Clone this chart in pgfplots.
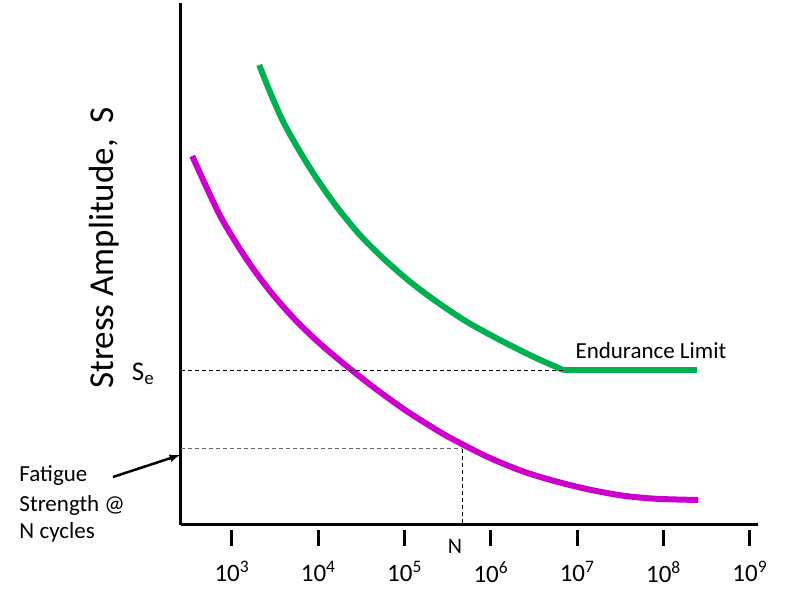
\documentclass[border=0pt]{standalone}
\usepackage{pgfplots}
\pgfplotsset{compat=1.18}
\usepackage{fontspec}
\setmainfont{Carlito}
\definecolor{sgreen}{RGB}{0,176,80}
\definecolor{smag}{RGB}{204,0,204}
\begin{document}
\begin{tikzpicture}
\path[use as bounding box] (-181pt,-74pt) rectangle (630pt,525pt);
\begin{axis}[
  scale only axis, width=577pt, height=522pt,
  xmin=2.41, xmax=9.095, ymin=0, ymax=522,
  axis x line=bottom, axis y line=left,
  axis line style={-, line width=3pt, black},
  xtick={3,4,5,6,7,8,9},
  xticklabels={10\textsuperscript{3},10\textsuperscript{4},10\textsuperscript{5},10\textsuperscript{6},10\textsuperscript{7},10\textsuperscript{8},10\textsuperscript{9}},
  ytick=\empty,
  tick align=outside, major tick length=16pt,
  xtick style={line width=3pt, yshift=-5pt, black},
  xticklabel style={font=\fontsize{25}{25}\selectfont, yshift=-17pt},
  clip=false,
  ylabel={Stress Amplitude,\ \ S},
  ylabel style={font=\fontsize{35}{35}\selectfont, at={(axis description cs:-0.1334,0.5307)}, anchor=center},
]
% green S-N curve with endurance limit
\addplot[sgreen, line width=6pt, smooth] coordinates {
 (3.316,460) (3.440,433.3) (3.594,403.3) (3.788,373.3) (3.981,346.7)
 (4.213,318.3) (4.483,290) (4.753,266.7) (5.063,243.3) (5.372,223.3)
 (5.720,203.3) (6.105,185) (6.491,168.3) (6.839,155)};
\addplot[sgreen, line width=6pt] coordinates {(6.839,155) (8.388,155)};
% magenta S-N curve
\addplot[smag, line width=6pt, smooth] coordinates {
 (2.540,369) (2.841,313) (3.035,284) (3.228,258.5) (3.460,232) (3.730,205.5)
 (4.000,183) (4.271,163) (4.637,138) (5.024,114) (5.410,93) (5.680,80.3)
 (5.990,67) (6.375,53.5) (6.762,43.4) (7.148,35.3) (7.534,29.3) (7.921,26.2)
 (8.403,25)};
% dashed guide lines
\addplot[black, line width=0.9pt, dash pattern=on 4pt off 3pt] coordinates {(2.41,155) (6.839,155)};
\addplot[black!60, line width=1pt, dash pattern=on 4pt off 3pt] coordinates {(2.41,76) (5.665,76)};
\addplot[black, line width=0.9pt, dash pattern=on 4pt off 3pt] coordinates {(5.665,76) (5.665,0)};
% arrow
\draw[-latex, line width=2.5pt] (axis cs:1.622,48) -- (axis cs:2.398,70);
% labels
\node[anchor=base east, font=\fontsize{27}{27}\selectfont] at (axis cs:2.140,144) {S\textsubscript{e}};
\node[anchor=base west, font=\fontsize{23}{23}\selectfont] at (axis cs:0.498,43) {Fatigue};
\node[anchor=base west, font=\fontsize{23}{23}\selectfont] at (axis cs:0.498,13) {Strength @};
\node[anchor=base west, font=\fontsize{23}{23}\selectfont] at (axis cs:0.498,-14) {N cycles};
\node[anchor=base, font=\fontsize{22}{22}\selectfont] at (axis cs:5.584,-28) {N};
\node[anchor=base west, font=\fontsize{23}{23}\selectfont] at (axis cs:6.940,166) {Endurance Limit};
\end{axis}
\end{tikzpicture}
\end{document}
